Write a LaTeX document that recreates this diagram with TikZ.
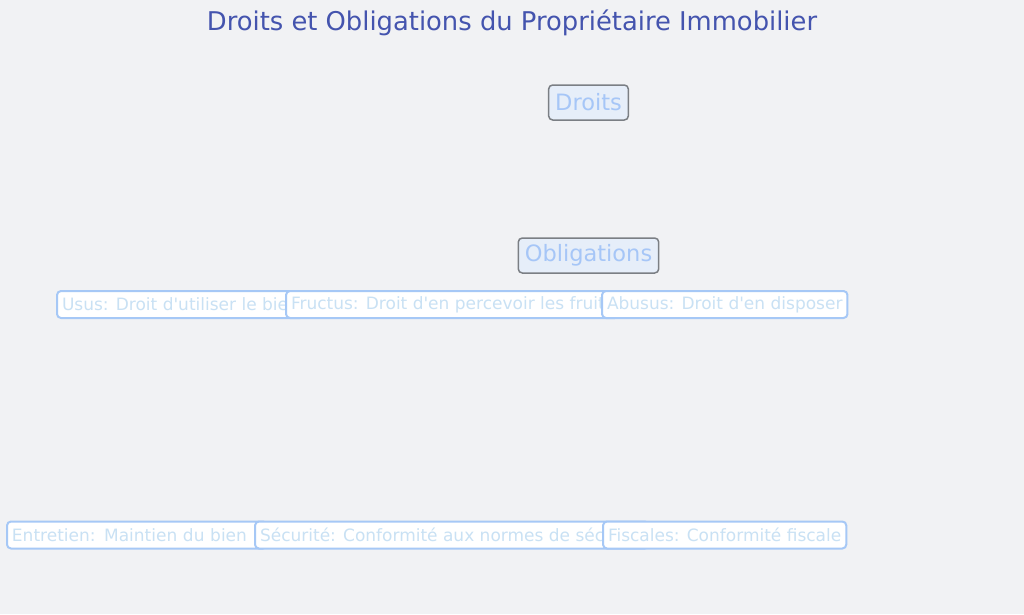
\documentclass[tikz,border=0pt]{standalone}
\usepackage{fontspec}
\setmainfont{DejaVu Sans}
\definecolor{bgc}{HTML}{F1F2F4}
\definecolor{titlec}{HTML}{4454AE}
\definecolor{catborder}{HTML}{7B7F84}
\definecolor{catfill}{HTML}{E6EEF9}
\definecolor{cattext}{HTML}{A6C6F7}
\definecolor{itemborder}{HTML}{A6C8F6}
\definecolor{itemtext}{HTML}{C9E1F4}
\newcommand{\apo}{\textquotesingle}
\tikzset{
  catbox/.style={draw=catborder, line width=1.5pt, rounded corners=4pt, fill=catfill,
    text=cattext, font=\fontsize{22.5}{26}\selectfont, inner xsep=6.5pt, minimum height=35pt},
  itembox/.style={draw=itemborder, line width=2pt, rounded corners=4pt, fill=white,
    text=itemtext, font=\fontsize{17}{20}\selectfont, inner xsep=5pt, minimum height=27pt,
    anchor=west, align=left},
  titletext/.style={text=titlec, font=\fontsize{25.8}{30}\selectfont}
}
\begin{document}
\begin{tikzpicture}[x=1pt,y=-1pt]
\useasboundingbox (0,0) rectangle (1024,614);
\fill[bgc] (0,0) rectangle (1024,614);
\node[titletext] (title) at (512,23) {Droits et Obligations du Propriétaire Immobilier};
\node[catbox] (droits) at (588.5,102.5) {Droits};
\node[catbox] (oblig) at (588.5,255.5) {Obligations};
% rights
\node[itembox] (usus) at (56,304.5) {Usus: Droit d\apo utiliser le bien};
\node[itembox] (fructus) at (285,304.5) {Fructus: Droit d\apo en percevoir les fruits};
\node[itembox] (abusus) at (601,304.5) {Abusus: Droit d\apo en disposer};
% obligations
\node[itembox, text width=250pt] (entretien) at (6,535) {Entretien: Maintien du bien};
\node[itembox] (securite) at (254,535) {Sécurité: Conformité aux normes de sécurité};
\node[itembox] (fiscales) at (602,535) {Fiscales: Conformité fiscale};
\end{tikzpicture}
\end{document}
